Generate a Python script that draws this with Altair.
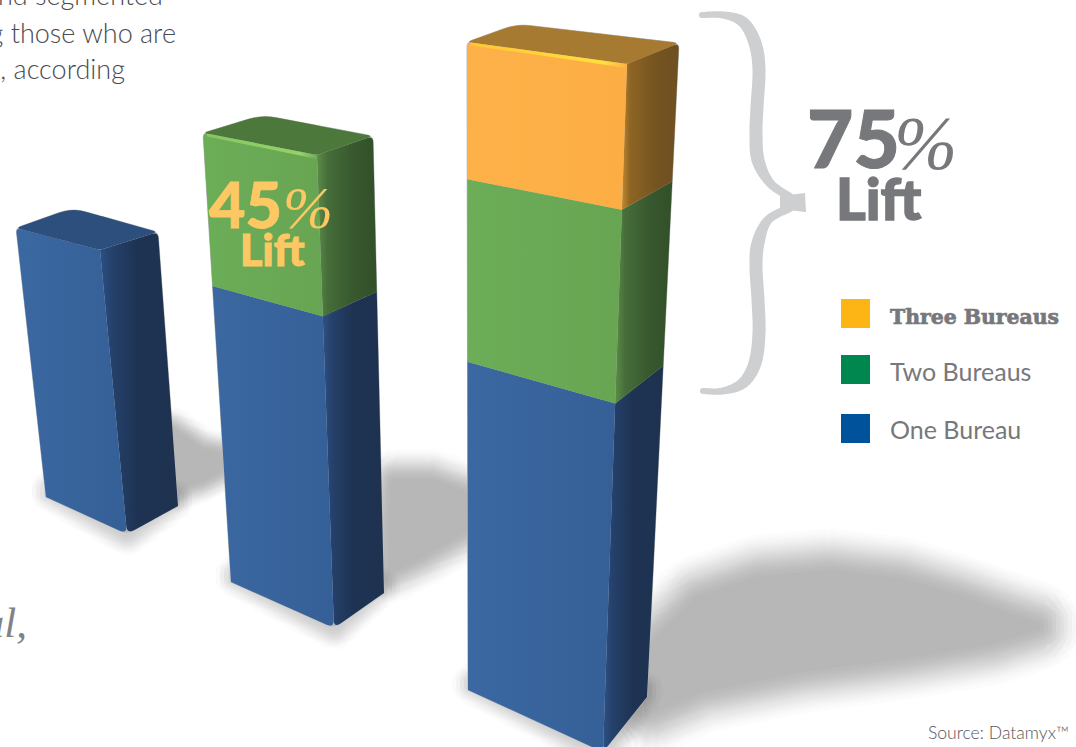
import math

import altair as alt
import pandas as pd

# Lift values per bar, stacked from the base up
BAR_NAMES = ["One Bureau", "Two Bureaus", "Three Bureaus"]
ONE_BUREAU = [100, 100, 100]
TWO_BUREAUS = [0, 45, 45]
THREE_BUREAUS = [0, 0, 30]

# Legend
LEGEND_LABELS = ["Three Bureaus", "Two Bureaus", "One Bureau"]
LEGEND_COLORS = ["#fdb515", "#00864f", "#00529b"]

# Outline of each 3-D bar on the canvas: top corners, base corners, foreshortening
BAR_SHAPES = [
    dict(tl=(16, 228), tf=(100, 250), tr=(158, 232), tb=(72, 208),
         bl=(46, 497), bf=(127, 534), br=(178, 506), persp=1.0),
    dict(tl=(203, 133), tf=(317, 155), tr=(373, 136), tb=(262, 115),
         bl=(231, 582), bf=(334, 628), br=(384, 593), persp=0.87),
    dict(tl=(467, 42), tf=(627, 64), tr=(679, 43), tb=(517, 24),
         bl=(468, 690), bf=(603, 752), br=(647, 697), persp=0.77),
]

# Face colours per stack segment
FRONT = {
    "blue": ["#3b68a1", "#355f97"],
    "green": ["#6cad58", "#68a552"],
    "orange": ["#fdb148", "#fcae44"],
}
SIDE = {
    "blue": [("#2d5083", 0), ("#25406a", 0.16), ("#1e3353", 0.5), ("#1e3250", 1)],
    "green": [("#5c8c47", 0), ("#466d39", 0.18), ("#38582e", 0.6), ("#325029", 1)],
    "orange": [("#c08a2e", 0), ("#8e6524", 0.14), ("#755420", 0.6), ("#6e4f20", 1)],
}
TOP = {"blue": "#2c4f7e", "green": "#4c783b", "orange": "#a67a30"}
EDGE_GLOW = {
    "green": [("#86c663", 0), ("#96d268", 0.85), ("#6cad58", 1)],
    "orange": [("#ffc634", 0), ("#ffdf3c", 0.85), ("#fdb148", 1)],
}

SEGMENT_ORDER = ["blue", "green", "orange"]

# Soft shadows cast on the floor
SHADOWS = [
    dict(poly=[(170, 430), (200, 450), (235, 458), (235, 462), (200, 480), (170, 490)],
         radius=26, peak=0.27),
    dict(poly=[(395, 482), (430, 482), (480, 500), (480, 520), (420, 555), (390, 570)],
         radius=36, peak=0.27),
    dict(poly=[(650, 650), (700, 600), (760, 580), (830, 574), (900, 582), (960, 600),
               (1010, 618), (1035, 626), (990, 640), (900, 655), (800, 668), (700, 688),
               (650, 710)],
         radius=50, peak=0.27),
]

# Curly brace centre lines with stroke widths (x, y, width)
BRACE_UPPER = [(702, 15, 6), (723, 15, 7), (743, 22, 11), (755, 43, 13), (759, 70, 13),
               (757, 107, 13), (756, 133, 13), (758, 160, 13), (770, 183, 9), (790, 197, 8)]
BRACE_LOWER = [(790, 208, 8), (768, 220, 9), (758, 243, 13), (756, 267, 13),
               (758, 300, 13), (759, 333, 13), (755, 363, 13), (743, 383, 11),
               (723, 391, 7), (703, 391, 6)]
BRACE_TIP = [(780, 196), (805, 193), (806, 212), (780, 209)]
BRACE_COLOR = "#cdcfd1"

CANVAS_W, CANVAS_H = 1076, 747
X = alt.X("x:Q", scale=alt.Scale(domain=[0, CANVAS_W], nice=False, zero=False), axis=None)
Y = alt.Y("y:Q", scale=alt.Scale(domain=[CANVAS_H, 0], nice=False, zero=False), axis=None)

GREY = "#77787b"


def polygon_rows(poly):
    """Turn an x-monotone polygon into x / y / y2 rows for an area mark."""
    xs = sorted({round(p[0], 2) for p in poly})
    rows = []
    for x in xs:
        ys = []
        for (x0, y0), (x1, y1) in zip(poly, poly[1:] + poly[:1]):
            lo, hi = min(x0, x1), max(x0, x1)
            if lo - 0.01 <= x <= hi + 0.01:
                if abs(x1 - x0) < 0.01:
                    ys += [y0, y1]
                else:
                    ys.append(y0 + (x - x0) / (x1 - x0) * (y1 - y0))
        rows.append(dict(x=x, y=min(ys), y2=max(ys)))
    return rows


def round_corners(poly, radii, steps=5):
    """Replace the listed vertices by small quadratic curves."""
    out = list(poly)
    for i in sorted(radii, reverse=True):
        r = radii[i]
        p, prev, nxt = out[i], out[i - 1], out[(i + 1) % len(out)]

        def toward(q):
            d = math.hypot(q[0] - p[0], q[1] - p[1]) or 1
            return (p[0] + (q[0] - p[0]) * r / d, p[1] + (q[1] - p[1]) * r / d)

        a, b = toward(prev), toward(nxt)
        arc = []
        for k in range(steps + 1):
            t = k / steps
            arc.append(tuple((1 - t) ** 2 * u + 2 * t * (1 - t) * v + t ** 2 * w
                             for u, v, w in zip(a, p, b)))
        out[i:i + 1] = arc
    return out


def face(poly, fill, stroke=None, stroke_width=0):
    kw = {}
    if stroke:
        kw = dict(stroke=stroke, strokeWidth=stroke_width, strokeJoin="round")
    return (
        alt.Chart(pd.DataFrame(polygon_rows(poly)))
        .mark_area(color=fill, orient="vertical", **kw)
        .encode(x=X, y=Y, y2="y2:Q")
    )


def gradient(stops, x2=1, y2=0):
    return alt.LinearGradient(
        gradient="linear", x1=0, y1=0, x2=x2, y2=y2,
        stops=[alt.GradientStop(color=c, offset=o) for c, o in stops],
    )


def dilated_rows(poly, r, bin_px=4):
    """Rows of the polygon grown by radius r, sampled on an x grid."""
    samples = []
    for (x0, y0), (x1, y1) in zip(poly, poly[1:] + poly[:1]):
        n = max(2, int(math.hypot(x1 - x0, y1 - y0) / 4))
        samples += [(x0 + (x1 - x0) * k / n, y0 + (y1 - y0) * k / n) for k in range(n)]
    bins = {}
    for sx, sy in samples:
        for a in range(32):
            px = sx + r * math.cos(a * math.pi / 16)
            py = sy + r * math.sin(a * math.pi / 16)
            b = round(px / bin_px)
            lo, hi = bins.get(b, (py, py))
            bins[b] = (min(lo, py), max(hi, py))
    return [dict(x=b * bin_px, y=v[0], y2=v[1]) for b, v in sorted(bins.items())]


def soft_shadow(poly, radius, peak, steps=24):
    """Stack translucent, progressively wider copies of a shape to fake a blur."""
    alpha = 1 - (1 - peak) ** (1 / steps)
    rows = []
    for i in range(steps):
        t = (i + 0.5) / steps
        grow = radius * (0.5 - math.sin(math.asin(1 - 2 * t) / 3))
        rows += [dict(r, level=i) for r in dilated_rows(poly, grow)]
    return (
        alt.Chart(pd.DataFrame(rows))
        .mark_area(color="#000000", opacity=alpha, orient="vertical", interpolate="monotone")
        .encode(x=X, y=Y, y2="y2:Q", detail="level:N")
    )


def lerp(a, b, t):
    return (a[0] + (b[0] - a[0]) * t, a[1] + (b[1] - a[1]) * t)


def projected(v, persp):
    """Screen fraction of a value fraction along a foreshortened edge."""
    return persp * v / (1 + (persp - 1) * v)


def smooth(points, per_span=8):
    """Catmull-Rom resampling so the brace outline reads as a curve."""
    out = []
    pts = [points[0]] + points + [points[-1]]
    for i in range(1, len(pts) - 2):
        p0, p1, p2, p3 = pts[i - 1], pts[i], pts[i + 1], pts[i + 2]
        for k in range(per_span):
            t = k / per_span
            out.append(tuple(
                0.5 * (2 * b + (c - a) * t + (2 * a - 5 * b + 4 * c - d) * t ** 2
                       + (3 * b - a - 3 * c + d) * t ** 3)
                for a, b, c, d in zip(p0, p1, p2, p3)
            ))
    out.append(points[-1])
    return out


def brace_arm(points):
    rows = [dict(x=x, y=y, w=w, n=i) for i, (x, y, w) in enumerate(smooth(points))]
    return (
        alt.Chart(pd.DataFrame(rows))
        .mark_trail(color=BRACE_COLOR)
        .encode(x=X, y=Y, order="n:Q", size=alt.Size("w:Q", scale=None, legend=None))
    )


def bar_layers(shape, stack):
    total = sum(stack)
    layers = []
    persp = shape["persp"]

    # thin grey rim around the whole silhouette
    outline = [shape["tl"], shape["tb"], shape["tr"], shape["br"], shape["bf"], shape["bl"]]
    outline = round_corners(outline, {0: 5, 1: 14, 2: 6, 4: 8})
    layers.append(face(outline, "#b9bbbd", "#b9bbbd", 1))

    tops = [key for key, v in zip(SEGMENT_ORDER, stack) if v > 0]
    crown = tops[-1]
    running = 0
    for idx, (key, value) in enumerate(zip(SEGMENT_ORDER, stack)):
        if value == 0:
            continue
        s0 = projected(running / total, persp)
        running += value
        s1 = projected(running / total, persp)
        lo = {e: lerp(shape["b" + e], shape["t" + e], s0) for e in "lfr"}
        hi = {e: lerp(shape["b" + e], shape["t" + e], s1) for e in "lfr"}
        side = [hi["f"], hi["r"], lo["r"], lo["f"]]
        front = [hi["l"], hi["f"], lo["f"], lo["l"]]
        side_r, front_r = {}, {}
        if key == crown:
            side_r[1] = 6
            front_r[0] = 5
        if idx == 0:
            side_r[3] = 8
            front_r[2] = 8
        layers.append(face(round_corners(side, side_r), gradient(SIDE[key])))
        layers.append(face(round_corners(front, front_r),
                           gradient([(FRONT[key][0], 0), (FRONT[key][1], 1)])))

    top_face = round_corners([shape["tl"], shape["tb"], shape["tr"], shape["tf"]],
                             {0: 5, 1: 14, 2: 6, 3: 3})
    layers.append(face(top_face, TOP[crown]))

    # bright bevel where the top meets the front
    if crown in EDGE_GLOW:
        l, f = shape["tl"], shape["tf"]
        bevel = [(l[0] + 4, l[1] + 0.5), f, (f[0], f[1] + 4), (l[0] + 4, l[1] + 3.5)]
        layers.append(face(bevel, gradient(EDGE_GLOW[crown])))
    return layers


def label(text, x, y, size, color=GREY, font="Lato", weight="normal", style="normal",
          align="left", outline=0):
    row = pd.DataFrame([dict(x=x, y=y, t=text)])
    kw = dict(stroke=color, strokeWidth=outline) if outline else {}
    return (
        alt.Chart(row)
        .mark_text(font=font, fontSize=size, fontWeight=weight, fontStyle=style, color=color,
                   align=align, baseline="alphabetic", **kw)
        .encode(x=X, y=Y, text="t:N")
    )


layers = [soft_shadow(**s) for s in SHADOWS]

# Soft contact shadow hugging the foot of each bar
for shape in BAR_SHAPES:
    contact = [(shape["bl"][0] + 6, shape["bl"][1] - 6), shape["bf"],
               (shape["br"][0] - 6, shape["br"][1] - 6)]
    layers.append(soft_shadow(contact, 24, 0.16, steps=12))

layers += [brace_arm(BRACE_UPPER), brace_arm(BRACE_LOWER), face(BRACE_TIP, BRACE_COLOR)]

for shape, a, b, c in zip(BAR_SHAPES, ONE_BUREAU, TWO_BUREAUS, THREE_BUREAUS):
    layers += bar_layers(shape, [a, b, c])

# Lift call-outs, worked out from the stacked values
lift_two = sum(TWO_BUREAUS[1:2])
lift_three = TWO_BUREAUS[2] + THREE_BUREAUS[2]
AMBER = "#fdc864"
SERIF = "Liberation Serif"
layers += [
    label(str(lift_two), 209, 228, 63, AMBER, weight=900, outline=0.8),
    label("%", 283, 228, 60, AMBER, font=SERIF, style="italic"),
    label("Lift", 240, 266, 43, AMBER, weight=900, outline=1),
    label(str(lift_three), 807, 168, 80, GREY, weight=900, outline=1),
    label("%", 894, 169, 76, GREY, font=SERIF, style="italic"),
    label("Lift", 836, 220, 57, GREY, weight=900, outline=1.4),
]

# Legend rows
legend_df = pd.DataFrame({
    "x": [855.5] * 3,
    "y": [313.5, 369.5, 428.5],
    "name": LEGEND_LABELS,
})
layers.append(
    alt.Chart(legend_df)
    .mark_square(size=841, opacity=1)
    .encode(x=X, y=Y, color=alt.Color("name:N", legend=None,
                                      scale=alt.Scale(domain=LEGEND_LABELS, range=LEGEND_COLORS)))
)
layers += [
    label(LEGEND_LABELS[0], 890, 324, 20.4, GREY, font="DejaVu Serif", weight="bold", outline=0.7),
    label(LEGEND_LABELS[1], 890, 381, 25),
    label(LEGEND_LABELS[2], 890, 439, 25),
]

# Body copy running off the canvas, and the source note
BODY = "#4b4b50"
layers += [
    label("nd segmented", 163, 5, 27, BODY, weight=300, align="right"),
    label("ng those who are", 176, 43, 27, BODY, weight=300, align="right"),
    label(", according", 125, 79, 27, BODY, weight=300, align="right"),
    label("al,", 27, 637, 43, "#808285", font=SERIF, style="italic", align="right"),
    label("Source: Datamyx™", 1069, 739, 17.6, "#55565a", weight=300, align="right"),
]

chart = (
    alt.layer(*layers)
    .properties(width=CANVAS_W, height=CANVAS_H, padding=0, background="#ffffff",
                autosize=alt.AutoSizeParams(type="none"))
    .configure_view(stroke=None)
)

chart.save("out.html", embed_options={"renderer": "svg", "actions": False})
